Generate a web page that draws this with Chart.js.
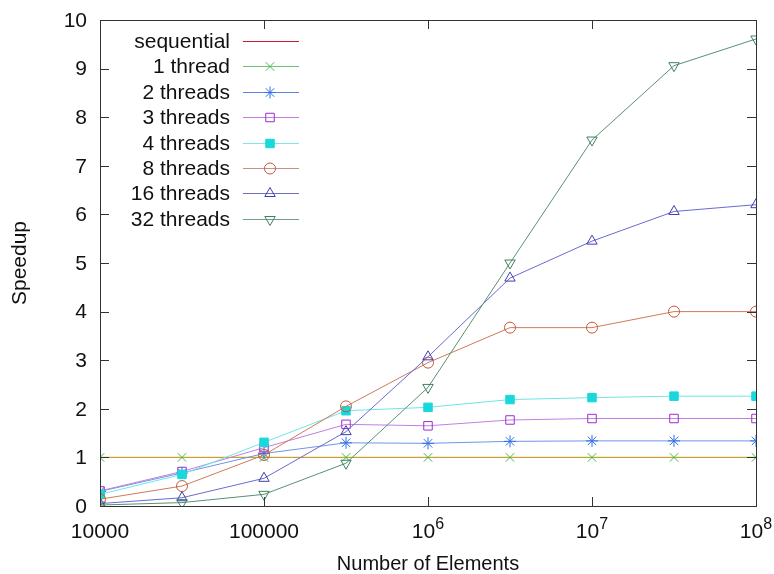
<!DOCTYPE html>
<html>
<head>
<meta charset="utf-8">
<script src="https://cdn.jsdelivr.net/npm/chart.js@4/dist/chart.umd.min.js"></script>
<style>
html,body{margin:0;padding:0;background:#fff;}
#wrap{width:774px;height:574px;}
</style>
</head>
<body>
<div id="wrap"><canvas id="c" width="774" height="574"></canvas></div>
<script>
const elements = [1e4, 31623, 1e5, 316228, 1e6, 3162278, 1e7, 31622777, 1e8];
const sequential = [1, 1, 1, 1, 1, 1, 1, 1, 1];
const thread1 = [1, 1, 1, 1, 1, 1, 1, 1, 1];
const threads2 = [0.30, 0.68, 1.08, 1.30, 1.29, 1.33, 1.34, 1.34, 1.34];
const threads3 = [0.31, 0.71, 1.20, 1.68, 1.65, 1.77, 1.80, 1.80, 1.80];
const threads4 = [0.24, 0.65, 1.31, 1.96, 2.03, 2.19, 2.23, 2.26, 2.26];
const threads8 = [0.14, 0.41, 1.05, 2.05, 2.95, 3.67, 3.67, 4.00, 4.00];
const threads16 = [0.05, 0.17, 0.57, 1.53, 3.07, 4.69, 5.45, 6.06, 6.20];
const threads32 = [0.02, 0.07, 0.24, 0.88, 2.44, 5.00, 7.53, 9.06, 9.61];
const xTicks = [1e4, 1e5, 1e6, 1e7, 1e8];
const xTickLabels = ['10000', '100000', ['10','6'], ['10','7'], ['10','8']];
const yTicks = [0,1,2,3,4,5,6,7,8,9,10];
const yTickLabels = ['0','1','2','3','4','5','6','7','8','9','10'];

const FONT = '"Liberation Sans", Arial, sans-serif';

function pts(vals){ return elements.map((x,i)=>({x:x, y:vals[i]})); }

const series = [
  {label:'sequential', data:sequential, line:'#c8a02c', legendLine:'#d01828', marker:'#cc1f2f', style:false},
  {label:'1 thread', data:thread1, line:'#c8a02c', legendLine:'#6cc46c', marker:'#44bb44', style:'crossRot', r:6},
  {label:'2 threads', data:threads2, line:'#6f95e6', legendLine:'#5a86e0', marker:'#2f6fe8', style:'star', r:6},
  {label:'3 threads', data:threads3, line:'#c47ee0', legendLine:'#c47ee0', marker:'#9a2fc8', style:'rect', r:6},
  {label:'4 threads', data:threads4, line:'#6ee6e6', legendLine:'#7ae8e8', marker:'#18d8dc', style:'rect', r:6, fill:true},
  {label:'8 threads', data:threads8, line:'#d07a5a', legendLine:'#d09080', marker:'#c05a40', style:'circle', r:5.5},
  {label:'16 threads', data:threads16, line:'#6a6ad0', legendLine:'#7070b8', marker:'#3f3fb0', style:'triangle', r:6},
  {label:'32 threads', data:threads32, line:'#5a9070', legendLine:'#70a088', marker:'#3f8060', style:'triangle', r:6, rot:180}
];

const datasets = series.map((s,i)=>({
  label: s.label,
  data: pts(s.data),
  borderColor: s.line,
  borderWidth: 1,
  backgroundColor: s.fill ? s.marker : 'rgba(0,0,0,0)',
  pointStyle: s.style || 'circle',
  pointRadius: s.style ? s.r : 0,
  pointHoverRadius: s.style ? s.r : 0,
  pointBorderColor: s.marker,
  pointBackgroundColor: s.fill ? s.marker : 'rgba(0,0,0,0)',
  pointBorderWidth: 1,
  pointRotation: s.rot || 0,
  tension: 0,
  order: series.length - i
}));

const frame = {
  id:'frame',
  afterDraw(chart){
    const ctx = chart.ctx, a = chart.chartArea;
    const xs = chart.scales.x, ys = chart.scales.y;
    ctx.save();
    ctx.strokeStyle = '#333';
    ctx.lineWidth = 1;
    ctx.strokeRect(Math.round(a.left)+0.5, Math.round(a.top)+0.5, Math.round(a.right-a.left), Math.round(a.bottom-a.top));
    ctx.beginPath();
    const tl = 9;
    xTicks.forEach(v=>{
      const px = Math.round(xs.getPixelForValue(v))+0.5;
      ctx.moveTo(px, a.bottom); ctx.lineTo(px, a.bottom - tl);
      ctx.moveTo(px, a.top); ctx.lineTo(px, a.top + tl);
    });
    yTicks.forEach(v=>{
      const py = Math.round(ys.getPixelForValue(v))+0.5;
      ctx.moveTo(a.left, py); ctx.lineTo(a.left + tl, py);
      ctx.moveTo(a.right, py); ctx.lineTo(a.right - tl, py);
    });
    ctx.stroke();

    // y tick labels
    ctx.fillStyle = '#111';
    ctx.font = '21px ' + FONT;
    ctx.textAlign = 'right';
    ctx.textBaseline = 'middle';
    yTicks.forEach((v,i)=>{
      ctx.fillText(yTickLabels[i], a.left - 13, ys.getPixelForValue(v) + 1);
    });

    // x tick labels
    ctx.textBaseline = 'alphabetic';
    xTicks.forEach((v,i)=>{
      const px = xs.getPixelForValue(v);
      const lab = xTickLabels[i];
      const base = a.bottom + 32;
      if (typeof lab === 'string') {
        ctx.font = '21px ' + FONT;
        ctx.textAlign = 'center';
        ctx.fillText(lab, px, base);
      } else {
        ctx.font = '21px ' + FONT;
        const w1 = ctx.measureText(lab[0]).width;
        ctx.font = '16px ' + FONT;
        const w2 = ctx.measureText(lab[1]).width;
        const x0 = px - (w1 + w2)/2;
        ctx.font = '21px ' + FONT;
        ctx.textAlign = 'left';
        ctx.fillText(lab[0], x0, base);
        ctx.font = '16px ' + FONT;
        ctx.fillText(lab[1], x0 + w1, base - 9);
      }
    });

    // legend
    const rowY0 = 41, rowH = 25.4;
    series.forEach((s,i)=>{
      const d = chart.data.datasets[i];
      const y = Math.round(rowY0 + i*rowH) + 0.5;
      ctx.font = '21px ' + FONT;
      ctx.textAlign = 'right';
      ctx.textBaseline = 'middle';
      ctx.fillStyle = '#111';
      ctx.fillText(d.label, 230, y+1);
      ctx.beginPath();
      ctx.strokeStyle = s.legendLine;
      ctx.lineWidth = 1;
      ctx.moveTo(243, y); ctx.lineTo(299, y);
      ctx.stroke();
      if (d.pointRadius > 0) {
        ctx.strokeStyle = d.pointBorderColor;
        ctx.fillStyle = d.pointBackgroundColor;
        ctx.lineWidth = 1;
        Chart.helpers.drawPoint(ctx, {
          pointStyle: d.pointStyle,
          radius: d.pointRadius,
          rotation: d.pointRotation,
          borderWidth: 1
        }, 270, y);
      }
    });
    ctx.restore();
  }
};

const chart = new Chart(document.getElementById('c'), {
  type: 'line',
  data: { datasets: datasets },
  options: {
    responsive: false,
    animation: false,
    events: [],
    layout: { padding: { top: 20, right: 18, left: 0, bottom: 0 } },
    plugins: { legend: { display: false }, tooltip: { enabled: false } },
    scales: {
      x: {
        type: 'logarithmic',
        min: 1e4, max: 1e8,
        grid: { display: false },
        border: { display: false },
        ticks: { display: false },
        afterBuildTicks: s => { s.ticks = xTicks.map(v=>({value:v})); },
        afterFit: s => { s.height = 68; },
        title: { display: true, text: 'Number of Elements', color: '#111', font: { family: FONT, size: 20, lineHeight: 1 }, padding: { top: 0, bottom: 0 } }
      },
      y: {
        type: 'linear',
        min: 0, max: 10,
        grid: { display: false },
        border: { display: false },
        ticks: { display: false, stepSize: 1 },
        afterFit: s => { s.width = 100; },
        title: { display: true, text: 'Speedup', color: '#111', font: { family: FONT, size: 21, lineHeight: 1 }, padding: { top: 10, bottom: 0 } }
      }
    }
  },
  plugins: [frame]
});
</script>
</body>
</html>
